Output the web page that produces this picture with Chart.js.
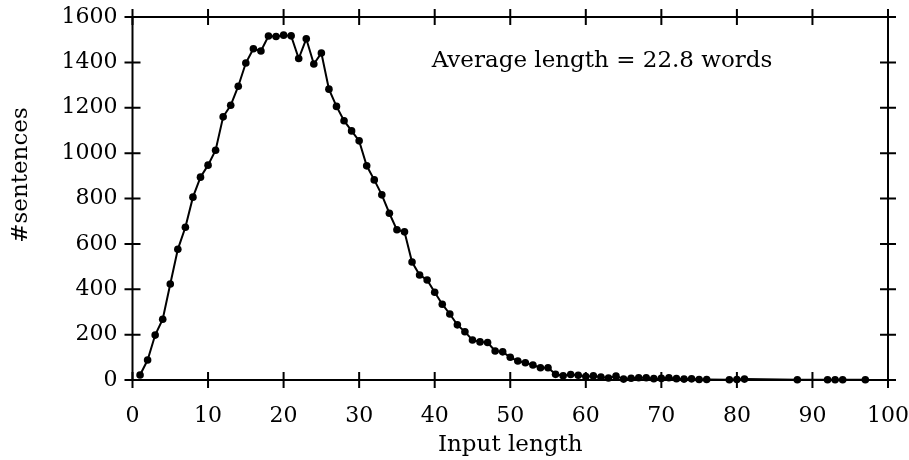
<!DOCTYPE html>
<html>
<head>
<meta charset="utf-8">
<script src="https://cdn.jsdelivr.net/npm/chart.js@4/dist/chart.umd.min.js"></script>
<style>
html,body{margin:0;padding:0;background:#fff;}
#wrap{width:909px;height:460px;position:relative;}
</style>
</head>
<body>
<div id="wrap"><canvas id="c" width="909" height="460"></canvas></div>
<script>
const lengths = [1,2,3,4,5,6,7,8,9,10,11,12,13,14,15,16,17,18,19,20,21,22,23,24,25,26,27,28,29,30,31,32,33,34,35,36,37,38,39,40,41,42,43,44,45,46,47,48,49,50,51,52,53,54,55,56,57,58,59,60,61,62,63,64,65,66,67,68,69,70,71,72,73,74,75,76,79,80,81,88,92,93,94,97];
const sentences = [22,88,198,268,423,576,673,806,894,947,1013,1160,1211,1295,1397,1460,1450,1516,1514,1520,1517,1417,1504,1393,1441,1282,1206,1143,1098,1054,944,882,816,735,662,653,520,463,441,387,334,291,243,213,176,168,165,128,124,100,84,76,66,54,54,25,19,24,21,15,18,13,9,17,4,8,10,10,6,7,10,6,4,5,2,2,1,2,4,1,1,1,1,1];
const xTickValues = [0,10,20,30,40,50,60,70,80,90,100];
const yTickValues = [0,200,400,600,800,1000,1200,1400,1600];
const annotationText = "Average length = 22.8 words";
const xTitle = "Input length";
const yTitle = "#sentences";

const FONT = "'DejaVu Serif', 'Liberation Serif', serif";

const boxTicks = {
  id: 'boxTicks',
  beforeDatasetsDraw(chart) {
    const {ctx, chartArea: a, scales} = chart;
    ctx.save();
    ctx.strokeStyle = '#000';
    ctx.lineWidth = 2;
    ctx.strokeRect(a.left, a.top, a.right - a.left, a.bottom - a.top);
    const L = 8;
    ctx.beginPath();
    xTickValues.forEach(v => {
      const px = scales.x.getPixelForValue(v);
      ctx.moveTo(px, a.bottom - L); ctx.lineTo(px, a.bottom + L);
      ctx.moveTo(px, a.top - L); ctx.lineTo(px, a.top + L);
    });
    yTickValues.forEach(v => {
      const py = scales.y.getPixelForValue(v);
      ctx.moveTo(a.left - L, py); ctx.lineTo(a.left + L, py);
      ctx.moveTo(a.right - L, py); ctx.lineTo(a.right + L, py);
    });
    ctx.stroke();
    ctx.restore();
  },
  afterDraw(chart) {
    const {ctx, scales, chartArea: a} = chart;
    ctx.save();
    ctx.fillStyle = '#000';
    ctx.font = "23px " + FONT;
    ctx.textBaseline = 'alphabetic';
    ctx.textAlign = 'left';
    ctx.fillText(annotationText, scales.x.getPixelForValue(39.6), scales.y.getPixelForValue(1381));
    // y-axis title
    ctx.translate(27, 175);
    ctx.rotate(-Math.PI / 2);
    ctx.textAlign = 'center';
    ctx.fillText(yTitle, 0, 0);
    ctx.restore();
  }
};

new Chart(document.getElementById('c'), {
  type: 'line',
  data: {
    datasets: [{
      data: lengths.map((x, i) => ({x: x, y: sentences[i]})),
      borderColor: '#000',
      backgroundColor: '#000',
      borderWidth: 2,
      pointRadius: 3.8,
      pointBorderWidth: 0,
      pointBackgroundColor: '#000',
      tension: 0,
      clip: false
    }]
  },
  options: {
    responsive: false,
    animation: false,
    devicePixelRatio: 1,
    layout: {padding: {top: 17, right: 21, left: 0, bottom: 0}},
    plugins: {legend: {display: false}, tooltip: {enabled: false}},
    scales: {
      x: {
        type: 'linear',
        min: 0, max: 100,
        afterBuildTicks: s => { s.ticks = xTickValues.map(v => ({value: v})); },
        afterFit: s => { s.height = 80; s.paddingLeft = 0; s.paddingRight = 0; },
        grid: {display: false, drawTicks: false},
        border: {display: false},
        ticks: {color: '#000', font: {family: FONT, size: 22}, padding: 23, maxRotation: 0, callback: v => String(v)},
        title: {display: true, text: xTitle, color: '#000', font: {family: FONT, size: 23}, padding: {top: 4, bottom: 1}}
      },
      y: {
        type: 'linear',
        min: 0, max: 1600,
        afterBuildTicks: s => { s.ticks = yTickValues.map(v => ({value: v})); },
        afterFit: s => { s.width = 132.5; s.paddingTop = 0; s.paddingBottom = 0; },
        grid: {display: false, drawTicks: false},
        border: {display: false},
        ticks: {color: '#000', font: {family: FONT, size: 22}, padding: 15, callback: v => String(v)},
        title: {display: false}
      }
    }
  },
  plugins: [boxTicks]
});
</script>
</body>
</html>
